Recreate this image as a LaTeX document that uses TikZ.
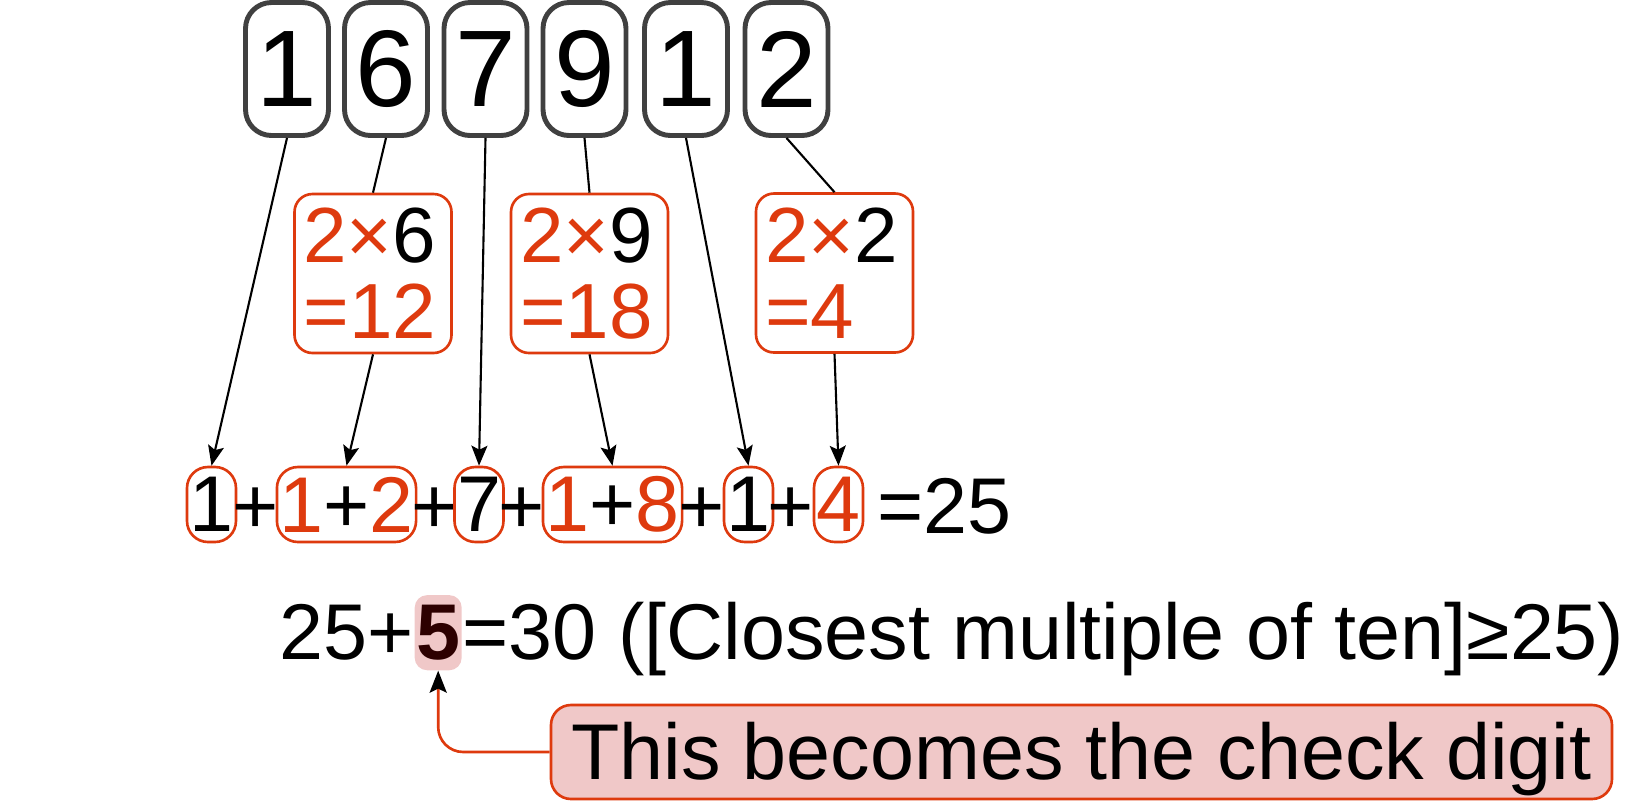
\documentclass[tikz,border=0pt]{standalone}
\usepackage{fontspec}
\setmainfont{Liberation Sans}
\usetikzlibrary{positioning}
\usetikzlibrary{positioning,calc,arrows.meta}

\definecolor{digitgray}{RGB}{64,64,64}
\definecolor{chkred}{RGB}{222,58,14}
\definecolor{chkpink}{RGB}{240,200,200}
\definecolor{darkfive}{RGB}{45,0,0}

\begin{document}
\begin{tikzpicture}[
        digit/.style={draw=digitgray, line width=2.8pt, rounded corners=0.52cm, minimum width=1.66cm, minimum height=2.66cm, inner sep=0pt, font=\fontsize{62}{62}\selectfont},
        dblbox/.style={draw=chkred, line width=1.5pt, rounded corners=0.36cm, minimum width=3.14cm, minimum height=3.18cm, text width=2.78cm, align=left, inner xsep=0.18cm, inner ysep=0pt, font=\fontsize{44.5}{43.3}\selectfont},
        sumbox/.style={draw=chkred, line width=1.5pt, rounded corners=0.42cm, minimum height=1.5cm, inner xsep=0.05cm, inner ysep=0pt, font=\fontsize{45}{45}\selectfont},
        plussign/.style={anchor=base, inner sep=0pt, font=\fontsize{45}{45}\selectfont},
        line/.style={anchor=base west, inner sep=0pt, font=\fontsize{45}{45}\selectfont},
        arrow/.style={-{Stealth[length=0.4cm, width=0.32cm, inset=0.08cm]}, line width=1.2pt},
        link/.style={line width=1.2pt},
        callarrow/.style={-{Stealth[length=0.44cm, width=0.34cm, inset=0.08cm, color=black]}, draw=chkred, line width=1.5pt, rounded corners=0.5cm}
    ]
        \useasboundingbox (0,0) rectangle (32.68,-16.04);

        % Digits of the number
        \node[digit] (d1) at (5.74, -1.38) {1};
        \node[digit] (d2) at (7.72, -1.38) {6};
        \node[digit] (d3) at (9.71, -1.38) {7};
        \node[digit] (d4) at (11.69, -1.38) {9};
        \node[digit] (d5) at (13.72, -1.38) {1};
        \node[digit] (d6) at (15.73, -1.38) {2};

        % Doubled digits
        \node[dblbox] (mA) at (7.46, -5.47) {\textcolor{chkred}{2×}6\\\textcolor{chkred}{=12}};
        \node[dblbox] (mB) at (11.79, -5.47) {\textcolor{chkred}{2×}9\\\textcolor{chkred}{=18}};
        \node[dblbox] (mC) at (16.69, -5.46) {\textcolor{chkred}{2×}2\\\textcolor{chkred}{=4}};

        % Sum of the digits
        \node[sumbox] (b1) at (4.23, -10.09) {1};
        \node[plussign] (p1) at (5.12, -10.67) {+};
        \node[sumbox] (b2) at (6.93, -10.09) {\textcolor{chkred}{1}+\textcolor{chkred}{2}};
        \node[plussign] (p2) at (8.69, -10.67) {+};
        \node[sumbox] (b3) at (9.58, -10.09) {7};
        \node[plussign] (p3) at (10.43, -10.67) {+};
        \node[sumbox] (b4) at (12.25, -10.09) {\textcolor{chkred}{1}+\textcolor{chkred}{8}};
        \node[plussign] (p4) at (14.03, -10.67) {+};
        \node[sumbox] (b5) at (14.97, -10.09) {1};
        \node[plussign] (p5) at (15.82, -10.67) {+};
        \node[sumbox] (b6) at (16.77, -10.09) {\textcolor{chkred}{4}};
        \node[line] (total) at (17.54, -10.67) {=25};

        % Check digit line
        \node[line] (sum1) at (5.59, -13.19) {25+};
        \node[anchor=base west, fill=chkpink, rounded corners=0.25cm, inner xsep=0.03cm, inner ysep=0.2cm, text=darkfive, font=\fontsize{45}{45}\selectfont\bfseries] (five) at (sum1.base east) {5};
        \node[line] (sum2) at (five.base east) {=30 ([Closest multiple of ten]≥25)};

        \node[draw=chkred, fill=chkpink, line width=1.5pt, rounded corners=0.4cm, minimum width=21.22cm, minimum height=1.88cm, inner xsep=0.34cm, text depth=0.1em, font=\fontsize{45}{45}\selectfont] (note) at (21.63, -15.04) {This becomes the check digit};

        \draw[arrow] (d1.south) -- (b1.north);
        \draw[link] (d2.south) -- (mA.north);
        \draw[arrow] (mA.south) -- (b2.north);
        \draw[arrow] (d3.south) -- (b3.north);
        \draw[link] (d4.south) -- (mB.north);
        \draw[arrow] (mB.south) -- (b4.north);
        \draw[arrow] (d5.south) -- (b5.north);
        \draw[link] (d6.south) -- (mC.north);
        \draw[arrow] (mC.south) -- (b6.north);
        \draw[callarrow] (note.west) -| (five.south);
    \end{tikzpicture}
\end{document}
